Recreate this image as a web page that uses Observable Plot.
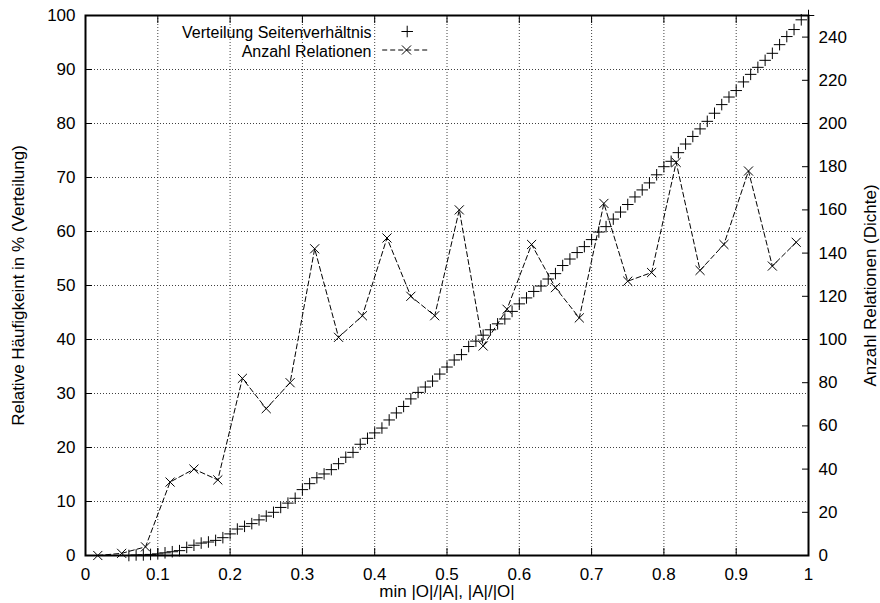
<!DOCTYPE html>
<html>
<head>
<meta charset="utf-8">
<script src="https://cdn.jsdelivr.net/npm/d3@7"></script>
<script src="https://cdn.jsdelivr.net/npm/@observablehq/plot@0.6"></script>
<style>
  html, body { margin: 0; padding: 0; background: #fff; }
</style>
</head>
<body>
<div id="chart"></div>
<script>
// Cumulative share of aspect ratios (left axis, %)
const shareX = [
  0.06, 0.07, 0.08, 0.09, 0.10, 0.11, 0.12, 0.13, 0.14, 0.15,
  0.16, 0.17, 0.18, 0.19, 0.20, 0.21, 0.22, 0.23, 0.24, 0.25,
  0.26, 0.27, 0.28, 0.29, 0.30, 0.31, 0.32, 0.33, 0.34, 0.35,
  0.36, 0.37, 0.38, 0.39, 0.40, 0.41, 0.42, 0.43, 0.44, 0.45,
  0.46, 0.47, 0.48, 0.49, 0.50, 0.51, 0.52, 0.53, 0.54, 0.55,
  0.56, 0.57, 0.58, 0.59, 0.60, 0.61, 0.62, 0.63, 0.64, 0.65,
  0.66, 0.67, 0.68, 0.69, 0.70, 0.71, 0.72, 0.73, 0.74, 0.75,
  0.76, 0.77, 0.78, 0.79, 0.80, 0.81, 0.82, 0.83, 0.84, 0.85,
  0.86, 0.87, 0.88, 0.89, 0.90, 0.91, 0.92, 0.93, 0.94, 0.95,
  0.96, 0.97, 0.98, 0.99, 1.00
];
const shareY = [
  0.0, 0.1, 0.1, 0.2, 0.3, 0.5, 0.7, 0.9, 1.5, 1.9,
  2.3, 2.5, 2.8, 3.3, 4.0, 4.9, 5.4, 5.9, 6.6, 7.3,
  8.0, 8.9, 9.7, 10.6, 12.2, 13.3, 14.4, 15.1, 15.9, 17.0,
  18.2, 19.1, 20.6, 21.7, 22.7, 23.6, 25.1, 26.4, 27.6, 29.0,
  30.2, 31.2, 32.3, 33.6, 34.9, 36.2, 37.2, 38.7, 39.7, 40.8,
  41.8, 42.9, 43.8, 45.2, 46.6, 47.7, 48.9, 49.9, 51.2, 52.2,
  53.7, 54.9, 56.1, 57.2, 58.5, 59.9, 60.9, 62.3, 63.6, 65.0,
  66.4, 67.7, 69.0, 70.5, 72.0, 73.0, 74.6, 76.2, 77.6, 79.0,
  80.4, 81.9, 83.5, 84.9, 86.1, 87.7, 89.1, 90.4, 91.7, 93.0,
  94.6, 96.1, 97.4, 99.2, 100.0
];

// Number of relations per bin (right axis)
const relX = [
  0.017, 0.05, 0.083, 0.117, 0.15, 0.183, 0.217, 0.25, 0.283, 0.317,
  0.35, 0.383, 0.417, 0.45, 0.483, 0.517, 0.55, 0.583, 0.617, 0.65,
  0.683, 0.717, 0.75, 0.783, 0.817, 0.85, 0.883, 0.917, 0.95, 0.983
];
const relCount = [
  0, 1, 4, 34, 40, 35, 82, 68, 80, 142,
  101, 111, 147, 120, 111, 160, 97, 114, 144, 124,
  110, 163, 127, 131, 182, 132, 144, 178, 134, 145
];

// Axis ticks
const xTicks = [0, 0.1, 0.2, 0.3, 0.4, 0.5, 0.6, 0.7, 0.8, 0.9, 1];
const xGrid = [0.1, 0.2, 0.3, 0.4, 0.5, 0.6, 0.7, 0.8, 0.9];
const leftTicks = [0, 10, 20, 30, 40, 50, 60, 70, 80, 90, 100];
const leftGrid = [10, 20, 30, 40, 50, 60, 70, 80, 90];
const rightTicks = [0, 20, 40, 60, 80, 100, 120, 140, 160, 180, 200, 220, 240];
const leftMax = 100;
const rightMax = 250;
const ratio = rightMax / leftMax;

// Texts
const xTitle = "min |O|/|A|, |A|/|O|";
const yTitle = "Relative Häufigkeint in % (Verteilung)";
const y2Title = "Anzahl Relationen (Dichte)";
const seriesNames = ["Verteilung Seitenverhältnis", "Anzahl Relationen"];

const shareRows = shareX.map((x, i) => ({x, y: shareY[i]}));
const relRows = relX.map((x, i) => ({x, y: relCount[i] / ratio}));

// Horizontal line used as the key sample of the dashed series
const keyLine = {
  draw(context, size) {
    const r = Math.sqrt(size / Math.PI);
    context.moveTo(-r, 0);
    context.lineTo(r, 0);
  }
};

const tickStyle = {stroke: "black", strokeWidth: 1, fill: "none", label: null};
const gridStyle = {stroke: "#000", strokeOpacity: 0.75, strokeWidth: 1, strokeDasharray: "1,2"};

const chart = Plot.plot({
  width: 880,
  height: 603,
  marginLeft: 85,
  marginRight: 72,
  marginTop: 15,
  marginBottom: 48,
  x: {domain: [0, 1]},
  y: {domain: [0, leftMax]},
  style: {
    fontFamily: "'Liberation Sans', Arial, Helvetica, sans-serif",
    fontSize: "17px",
    background: "white",
    color: "black"
  },
  marks: [
    Plot.gridX(xGrid, gridStyle),
    Plot.gridY(leftGrid, gridStyle),

    // Relations per bin (dashed, × markers)
    Plot.line(relRows, {x: "x", y: "y", stroke: "black", strokeWidth: 1, strokeDasharray: "5,3"}),
    Plot.dot(relRows, {x: "x", y: "y", symbol: "times", r: 4.2, stroke: "black", fill: "none", strokeWidth: 1}),

    // Cumulative distribution (+ markers)
    Plot.dot(shareRows, {x: "x", y: "y", symbol: "plus", r: 3.8, stroke: "black", fill: "none", strokeWidth: 1}),

    Plot.frame({stroke: "black", strokeWidth: 2}),

    // Inward tick marks
    Plot.axisX(xTicks, {anchor: "bottom", tickSize: 7, dy: -7, ...tickStyle}),
    Plot.axisX(xTicks, {anchor: "top", tickSize: 7, dy: 7, ...tickStyle}),
    Plot.axisY(leftTicks, {anchor: "left", tickSize: 7, dx: 7, ...tickStyle}),
    Plot.axisY(rightTicks.map((v) => v / ratio), {anchor: "right", tickSize: 7, dx: -7, ...tickStyle}),

    // Tick labels
    Plot.axisX(xTicks, {anchor: "bottom", tickSize: 0, tickPadding: 12, tickFormat: (d) => String(d), label: null}),
    Plot.axisY(leftTicks, {anchor: "left", tickSize: 0, tickPadding: 10, tickFormat: (d) => String(d), label: null}),
    Plot.axisY(rightTicks.map((v) => v / ratio), {
      anchor: "right", tickSize: 0, tickPadding: 10,
      tickFormat: (d) => String(Math.round(d * ratio)), label: null
    }),

    // Axis titles
    Plot.text([xTitle], {frameAnchor: "bottom", dy: 36, textAnchor: "middle", lineAnchor: "middle", text: (d) => d}),
    Plot.text([yTitle], {frameAnchor: "left", dx: -67, rotate: -90, textAnchor: "middle", lineAnchor: "middle", text: (d) => d}),
    Plot.text([y2Title], {frameAnchor: "right", dx: 62, rotate: -90, textAnchor: "middle", lineAnchor: "middle", text: (d) => d}),

    // Key: both entries in one right-aligned two-line text
    Plot.text([seriesNames.join("\n")], {
      frameAnchor: "top-left", dx: 286, dy: 9.6, textAnchor: "end", lineAnchor: "top",
      fontSize: 16, lineHeight: 1.16, text: (d) => d
    }),
    Plot.dot([seriesNames[0]], {frameAnchor: "top-left", dx: 321.7, dy: 16, symbol: "plus", r: 3.8, stroke: "black", fill: "none", strokeWidth: 1}),
    Plot.dot([seriesNames[1]], {frameAnchor: "top-left", dx: 320, dy: 34.5, symbol: keyLine, r: 23.3, stroke: "black", fill: "none", strokeWidth: 1, strokeDasharray: "5,3"}),
    Plot.dot([seriesNames[1]], {frameAnchor: "top-left", dx: 321, dy: 34.5, symbol: "times", r: 4.2, stroke: "black", fill: "none", strokeWidth: 1})
  ]
});

document.getElementById("chart").append(chart);
</script>
</body>
</html>
